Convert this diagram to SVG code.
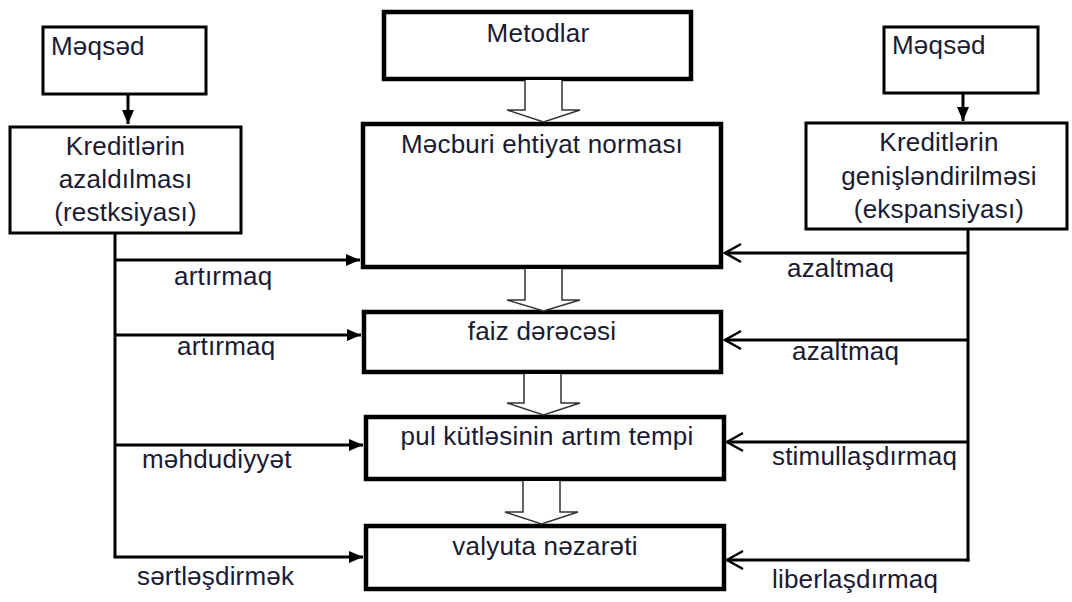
<svg xmlns="http://www.w3.org/2000/svg" width="1072" height="602" viewBox="0 0 1072 602">
<style>
text{font-family:"Liberation Sans",Arial,sans-serif;font-size:26px;letter-spacing:0.2px;fill:#1a1a33}
.c{text-anchor:middle}
.sb{fill:#fff;stroke:#000;stroke-width:3}
.bb{fill:#fff;stroke:#000;stroke-width:4.5}
.ln{fill:none;stroke:#000;stroke-width:3}
.ha{fill:#fff;stroke:#333;stroke-width:1.5}
.ov{fill:none;stroke:#000;stroke-width:2.5}
</style>
<defs>
<marker id="fa" markerWidth="14" markerHeight="12" refX="14" refY="6" orient="auto" markerUnits="userSpaceOnUse">
<path d="M0,0 L14,6 L0,12 Z" fill="#000"/>
</marker>
</defs>
<g id="maqsad-left"><rect class="sb" x="43" y="27" width="163" height="67"/><text x="51" y="55">Məqsəd</text></g>
<g id="kredit-left"><rect class="sb" x="10" y="127" width="231" height="106"/>
<text class="c" x="125.5" y="155">Kreditlərin</text><text class="c" x="125.5" y="188">azaldılması</text><text class="c" x="125.5" y="221">(restksiyası)</text></g>
<g id="metodlar"><rect class="bb" x="384" y="12" width="307" height="67"/><text class="c" x="538" y="42">Metodlar</text></g>
<g id="mecburi"><rect class="bb" x="363" y="124" width="358" height="143"/><text class="c" x="542" y="153">Məcburi ehtiyat norması</text></g>
<g id="faiz"><rect class="bb" x="364" y="312" width="357" height="60"/><text class="c" x="542" y="340">faiz dərəcəsi</text></g>
<g id="pul"><rect class="bb" x="366" y="417" width="358" height="62"/><text class="c" x="547" y="445">pul kütləsinin artım tempi</text></g>
<g id="valyuta"><rect class="bb" x="366" y="526" width="358" height="63"/><text class="c" x="545" y="555">valyuta nəzarəti</text></g>
<g id="maqsad-right"><rect class="sb" x="884" y="27" width="154" height="66"/><text x="892" y="54">Məqsəd</text></g>
<g id="kredit-right"><rect class="sb" x="806" y="123" width="261" height="106"/>
<text class="c" x="939" y="151">Kreditlərin</text><text class="c" x="939" y="185">genişləndirilməsi</text><text class="c" x="939" y="218">(ekspansiyası)</text></g>
<g id="connectors">
<path class="ha" d="M525,80 V110 H507 L543.5,122 L580,110 H562 V80"/>
<path class="ha" d="M525,269 V300 H507 L543.5,311 L580,300 H562 V269"/>
<path class="ha" d="M524,374 V403 H507 L543.5,415 L580,403 H561 V374"/>
<path class="ha" d="M523,481 V512 H505 L541.5,524 L578,512 H560 V481"/>
<line class="ln" x1="128" y1="95" x2="128" y2="124" marker-end="url(#fa)"/>
<line class="ln" x1="963" y1="94" x2="963" y2="121" marker-end="url(#fa)"/>
<path class="ln" d="M115,233 V557"/>
<line class="ln" x1="115" y1="260" x2="360" y2="260" marker-end="url(#fa)"/>
<line class="ln" x1="115" y1="335" x2="361" y2="335" marker-end="url(#fa)"/>
<line class="ln" x1="115" y1="445" x2="363" y2="445" marker-end="url(#fa)"/>
<line class="ln" x1="113.5" y1="557" x2="363" y2="557" marker-end="url(#fa)"/>
<path class="ln" d="M968,229 V561.5"/>
<path class="ln" d="M968,253 H725"/><path class="ov" d="M741,244 L725,253 L741,262"/>
<path class="ln" d="M968,340 H725"/><path class="ov" d="M741,331 L725,340 L741,349"/>
<path class="ln" d="M968,442 H727"/><path class="ov" d="M743,433 L727,442 L743,451"/>
<path class="ln" d="M969.5,560 H727"/><path class="ov" d="M743,551 L727,560 L743,569"/>
</g>
<g id="labels">
<text x="174" y="285">artırmaq</text>
<text x="177" y="355">artırmaq</text>
<text x="142" y="468">məhdudiyyət</text>
<text x="137" y="585">sərtləşdirmək</text>
<text x="787" y="277">azaltmaq</text>
<text x="792" y="360">azaltmaq</text>
<text x="772" y="465">stimullaşdırmaq</text>
<text x="772" y="588">liberlaşdırmaq</text>
</g>
</svg>
